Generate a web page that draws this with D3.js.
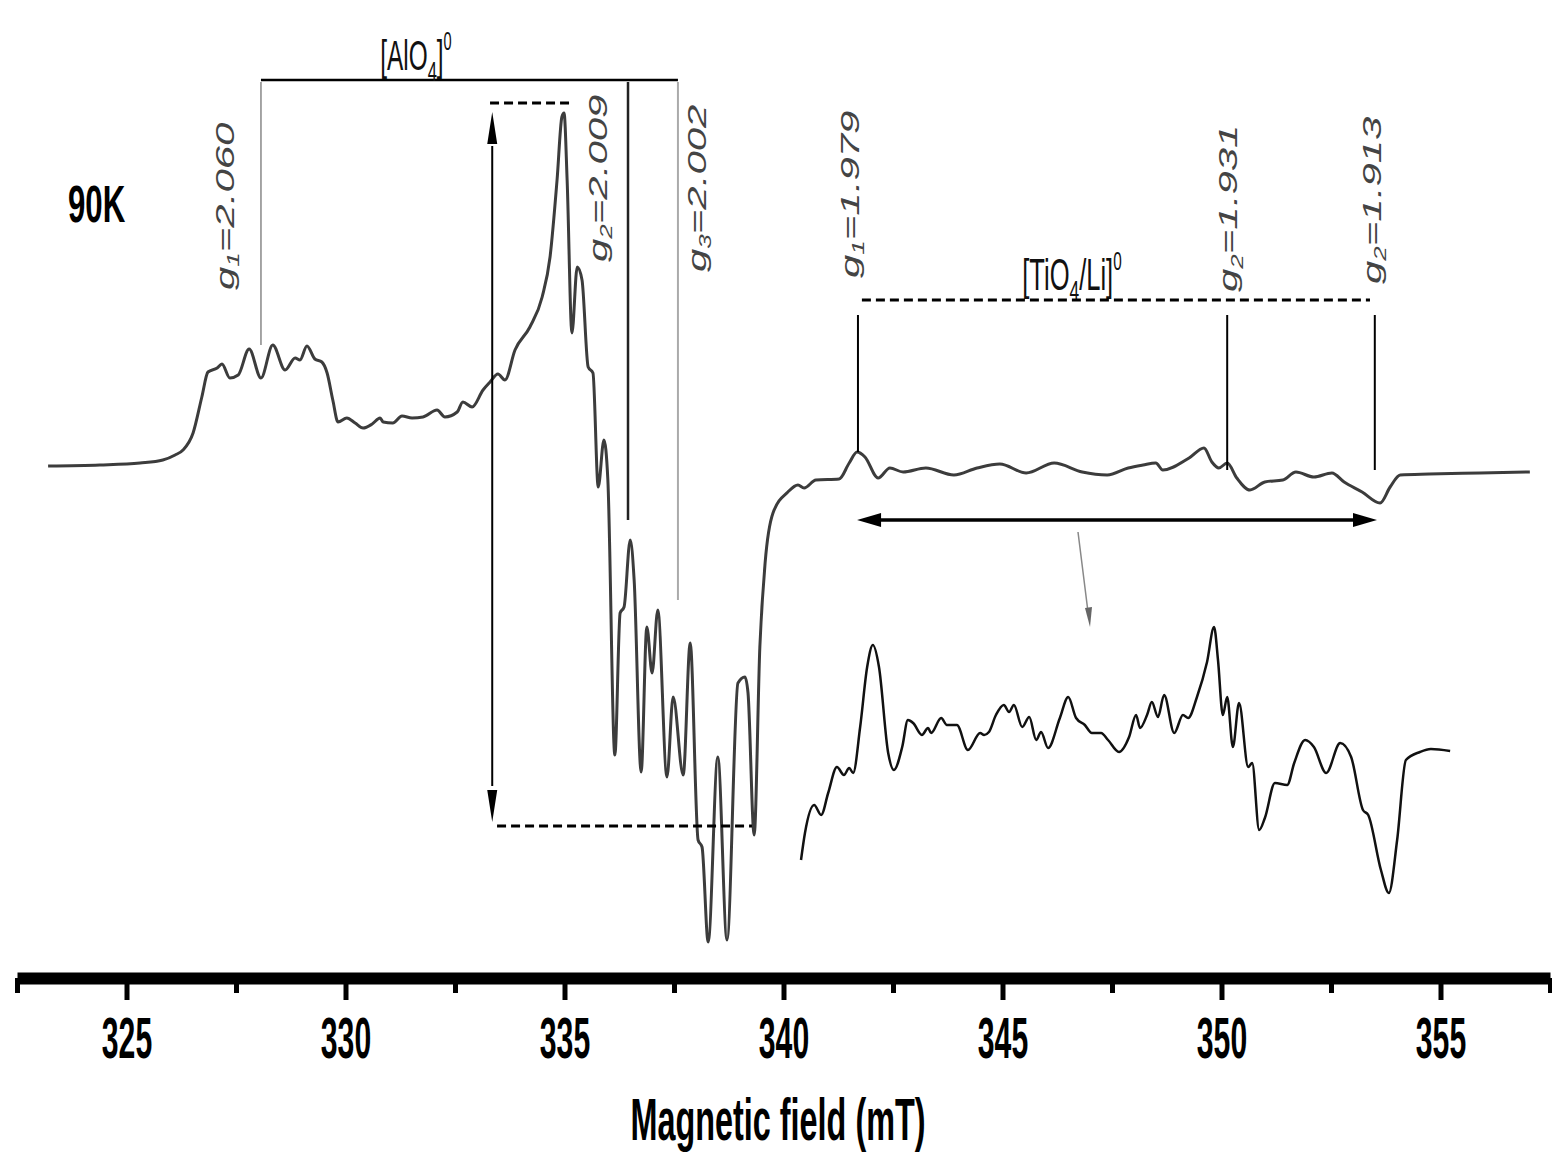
<!DOCTYPE html>
<html>
<head>
<meta charset="utf-8">
<script src="https://cdn.jsdelivr.net/npm/d3@7"></script>
<style>
body { margin: 0; background: #fff; }
svg { display: block; }
</style>
</head>
<body>
<div id="chart"></div>
<script>
// EPR spectrum at 90K, field in mT, signal in arbitrary units
var field = [323.21,324.39,325.31,325.83,326.11,326.29,326.52,326.72,326.86,327.07,327.18,327.36,327.55,327.80,328.07,328.34,328.62,328.85,328.96,329.12,329.30,329.46,329.58,329.71,329.83,330.03,330.22,330.40,330.61,330.79,330.86,331.08,331.29,331.52,331.77,332.09,332.27,332.55,332.68,332.89,333.14,333.30,333.48,333.64,333.87,334.21,334.49,334.67,334.83,334.94,334.99,335.06,335.17,335.29,335.40,335.54,335.65,335.77,335.90,335.99,336.15,336.27,336.36,336.50,336.59,336.75,336.88,337.00,337.13,337.34,337.48,337.71,337.87,338.05,338.14,338.28,338.50,338.71,338.96,339.12,339.19,339.33,339.46,339.58,339.76,340.10,340.33,340.47,340.74,341.27,341.50,341.68,341.86,342.16,342.43,342.73,343.25,343.89,344.42,344.94,345.54,346.18,346.82,347.39,347.87,348.21,348.50,348.66,349.26,349.60,349.78,349.94,350.13,350.35,350.65,350.99,351.40,351.70,352.11,352.52,352.80,353.21,353.62,353.85,354.08,354.74,355.90,357.04];
var signal = [0,0.1,0.3,0.6,1.1,1.6,3.3,6.9,9.4,9.8,10.2,8.8,9.1,11.7,8.8,12.1,9.6,10.8,10.6,12.0,10.7,10.4,9.3,6.6,4.4,4.8,4.3,3.8,4.2,4.8,4.4,4.3,5.0,4.8,4.9,5.6,4.9,5.4,6.4,5.9,7.6,8.4,9.2,8.6,11.6,13.9,16.9,20.9,28.6,34.9,35.3,28.6,13.3,19.9,18.6,9.9,9.3,-2.1,2.6,-1.4,-28.9,-14.7,-14.1,-7.4,-11.4,-30.6,-16.1,-20.7,-14.4,-31.1,-23.1,-30.9,-17.7,-37.4,-38.1,-47.6,-29.1,-47.4,-21.7,-21.1,-22.7,-36.9,-18.1,-9.7,-4.7,-2.6,-1.9,-2.2,-1.4,-1.3,0.3,1.4,0.9,-1.2,-0.2,-0.6,-0.2,-0.9,-0.2,0.2,-0.7,0.3,-0.6,-0.9,-0.2,0.1,0.3,-0.4,0.8,1.8,0.4,-0.2,0.3,-1.2,-2.4,-1.6,-1.4,-0.6,-1.1,-0.7,-1.6,-2.6,-3.7,-2.1,-0.9,-0.8,-0.7,-0.6];

// magnified [TiO4/Li]0 region shown below the main trace
var insetField = [340.40,340.49,340.70,340.86,341.02,341.22,341.38,341.50,341.59,341.75,341.91,342.04,342.18,342.39,342.52,342.71,342.84,342.96,343.16,343.30,343.37,343.60,343.73,343.96,344.21,344.49,344.58,344.69,344.85,345.03,345.15,345.26,345.45,345.61,345.77,345.88,346.04,346.31,346.50,346.68,346.88,347.04,347.25,347.41,347.66,347.89,348.05,348.14,348.30,348.41,348.55,348.69,348.92,349.12,349.24,349.44,349.67,349.83,349.92,350.03,350.13,350.26,350.40,350.61,350.70,350.86,350.99,351.22,351.50,351.66,351.91,352.11,352.39,352.71,352.96,353.23,353.35,353.64,353.82,354.01,354.21,354.53,354.78,355.22];
var insetSignal = [-11.2,-8.5,-5.7,-6.7,-4.5,-1.9,-2.7,-2.0,-2.5,2.1,8.1,10.3,8.1,-0.5,-2.2,0.1,2.8,2.5,1.3,2.0,1.5,3.0,2.3,2.3,-0.2,1.5,1.3,1.6,3.3,4.3,3.6,4.3,2.1,3.1,0.8,1.6,0.0,3.0,5.1,3.0,2.3,1.5,1.5,0.8,-0.4,1.1,3.3,2.0,3.3,4.6,3.1,5.3,1.5,3.3,3.0,5.1,8.6,12.1,8.8,3.3,5.1,0.1,4.5,-1.9,-1.5,-8.2,-7.0,-3.5,-3.7,-1.5,0.8,0.1,-2.5,0.5,-0.9,-6.2,-6.7,-12.2,-14.5,-9.2,-1.2,-0.4,-0.1,-0.3];

var majorTicks = [325, 330, 335, 340, 345, 350, 355];
var minorTicks = [322.5, 327.5, 332.5, 337.5, 342.5, 347.5, 352.5, 357.5];

// g-factor markers
var alField = [328.07, 336.45, 337.59];
var alSub = ["1", "2", "3"];
var alG = ["2.060", "2.009", "2.002"];
var tiField = [341.70, 350.13, 353.50];
var tiSub = ["1", "2", "2"];
var tiG = ["1.979", "1.931", "1.913"];

var W = 1552, H = 1157;

var svg = d3.select("#chart")
  .append("svg")
    .attr("width", W)
    .attr("height", H);

var x = d3.scaleLinear()
  .domain([322.5, 357.5])
  .range([17, 1550]);

// main trace: baseline at 466px, 10px per unit
var y = d3.scaleLinear()
  .domain([-51, 46.6])
  .range([976, 0]);

// inset trace: own baseline
var yInset = d3.scaleLinear()
  .domain([-14.5, 12.1])
  .range([893, 627]);

// ---- axis ----
var axisY = 978;
var gx = svg.append("g")
  .attr("transform", "translate(0," + axisY + ")");

gx.append("g")
  .call(d3.axisBottom(x).tickValues(minorTicks).tickSize(15).tickSizeOuter(0).tickFormat(""))
  .call(function(g) {
    g.select(".domain").attr("stroke", "#000").attr("stroke-width", 12);
    g.selectAll(".tick line").attr("stroke", "#000").attr("stroke-width", 5);
  });

gx.append("g")
  .call(d3.axisBottom(x).tickValues(majorTicks).tickSize(22).tickSizeOuter(0).tickFormat(d3.format("d")))
  .call(function(g) {
    g.select(".domain").remove();
    g.selectAll(".tick line").attr("stroke", "#000").attr("stroke-width", 5);
    g.selectAll(".tick text")
      .attr("y", 80)
      .attr("dy", 0)
      .attr("fill", "#000")
      .attr("transform", "scale(0.52,1)")
      .style("font-family", "'Liberation Sans', Arial, sans-serif")
      .style("font-size", "58px")
      .style("font-weight", "bold");
  });

svg.append("text")
  .attr("transform", "translate(778,1140) scale(0.54,1)")
  .attr("text-anchor", "middle")
  .style("font-family", "'Liberation Sans', Arial, sans-serif")
  .style("font-size", "60px")
  .style("font-weight", "bold")
  .text("Magnetic field (mT)");

svg.append("text")
  .attr("transform", "translate(68,222) scale(0.6,1)")
  .style("font-family", "'Liberation Sans', Arial, sans-serif")
  .style("font-size", "52px")
  .style("font-weight", "bold")
  .text("90K");

// ---- spectra ----
var main = field.map(function(f, i) { return [f, signal[i]]; });
var inset = insetField.map(function(f, i) { return [f, insetSignal[i]]; });

svg.append("path")
  .datum(main)
  .attr("fill", "none")
  .attr("stroke", "#3c3c3c")
  .attr("stroke-width", 3)
  .attr("stroke-linejoin", "round")
  .attr("d", d3.line()
    .x(function(d) { return x(d[0]); })
    .y(function(d) { return y(d[1]); })
    .curve(d3.curveMonotoneX));

svg.append("path")
  .datum(inset)
  .attr("fill", "none")
  .attr("stroke", "#111")
  .attr("stroke-width", 2.5)
  .attr("stroke-linejoin", "round")
  .attr("d", d3.line()
    .x(function(d) { return x(d[0]); })
    .y(function(d) { return yInset(d[1]); })
    .curve(d3.curveMonotoneX));

// ---- [AlO4]0 annotation ----
function hline(x1, x2, yy, w, dash, col) {
  var l = svg.append("line")
    .attr("x1", x1).attr("x2", x2).attr("y1", yy).attr("y2", yy)
    .attr("stroke", col || "#000").attr("stroke-width", w);
  if (dash) l.attr("stroke-dasharray", dash);
  return l;
}
function vline(xx, y1, y2, w, col) {
  return svg.append("line")
    .attr("x1", xx).attr("x2", xx).attr("y1", y1).attr("y2", y2)
    .attr("stroke", col || "#000").attr("stroke-width", w);
}
function tri(pts, col) {
  svg.append("polygon")
    .attr("points", pts.map(function(p) { return p.join(","); }).join(" "))
    .attr("fill", col || "#000");
}

hline(x(alField[0]), x(alField[2]), 80, 2.5);
var alEnds = [345, 520, 600];
var alCols = ["#888", "#222", "#aaa"];
var alW = [1.5, 2.5, 2];
alField.forEach(function(f, i) { vline(x(f), 82, alEnds[i], alW[i], alCols[i]); });

function formula(tx, ty, parts, size) {
  var t = svg.append("text")
    .attr("transform", "translate(" + tx + "," + ty + ") scale(0.58,1)")
    .attr("text-anchor", "middle")
    .style("font-family", "'Liberation Sans', Arial, sans-serif")
    .style("font-size", size + "px")
    .attr("fill", "#111");
  t.append("tspan").text(parts[0]);
  t.append("tspan").attr("dy", 11).style("font-size", (size * 0.68) + "px").text("4");
  t.append("tspan").attr("dy", -11).text(parts[1]);
  t.append("tspan").attr("dy", -20).style("font-size", (size * 0.6) + "px").text("0");
}
formula(416, 70, ["[AlO", "]"], 42);
formula(1072, 290, ["[TiO", "/Li]"], 44);

// height markers around the strong line
hline(x(333.3), x(335.17), y(36.3), 3, "9,5");
hline(x(333.46), x(339.28), y(-36), 3, "9,5");
var ax = x(333.35);
vline(ax, y(32), y(-32), 2);
tri([[ax, y(35.4)], [ax - 5, y(32.2)], [ax + 5, y(32.2)]]);
tri([[ax, y(-35.6)], [ax - 5, y(-32.4)], [ax + 5, y(-32.4)]]);

// ---- [TiO4/Li]0 annotation ----
hline(x(341.79), x(353.39), 300, 3, "9,5");
var tiEnds = [452, 470, 470];
tiField.forEach(function(f, i) { vline(x(f), 315, tiEnds[i], 2); });

var hx1 = x(341.68), hx2 = x(353.55);
hline(hx1 + 18, hx2 - 18, 520, 3.5);
tri([[hx1, 520], [hx1 + 24, 513], [hx1 + 24, 527]]);
tri([[hx2, 520], [hx2 - 24, 513], [hx2 - 24, 527]]);

svg.append("line")
  .attr("x1", 1078).attr("y1", 532).attr("x2", 1088).attr("y2", 612)
  .attr("stroke", "#888").attr("stroke-width", 1.5);
tri([[1090, 627], [1085, 608], [1092, 607]], "#666");

// ---- rotated g labels ----
function gLabel(bx, by, sub, val) {
  var t = svg.append("text")
    .attr("transform", "translate(" + bx + "," + by + ") rotate(-90) scale(1,0.6)")
    .style("font-family", "'Liberation Sans', Arial, sans-serif")
    .style("font-size", "42px")
    .style("font-style", "italic")
    .attr("fill", "#444");
  t.append("tspan").text("g");
  t.append("tspan").attr("dy", 9).style("font-size", "26px").text(sub);
  t.append("tspan").attr("dy", -9).text("=" + val);
}
var alShift = [-27, -21, 28];
var alStart = [290, 262, 272];
alField.forEach(function(f, i) { gLabel(x(f) + alShift[i], alStart[i], alSub[i], alG[i]); });
var tiShift = [1, 10, 6];
var tiStart = [278, 292, 284];
tiField.forEach(function(f, i) { gLabel(x(f) + tiShift[i], tiStart[i], tiSub[i], tiG[i]); });
</script>
</body>
</html>
